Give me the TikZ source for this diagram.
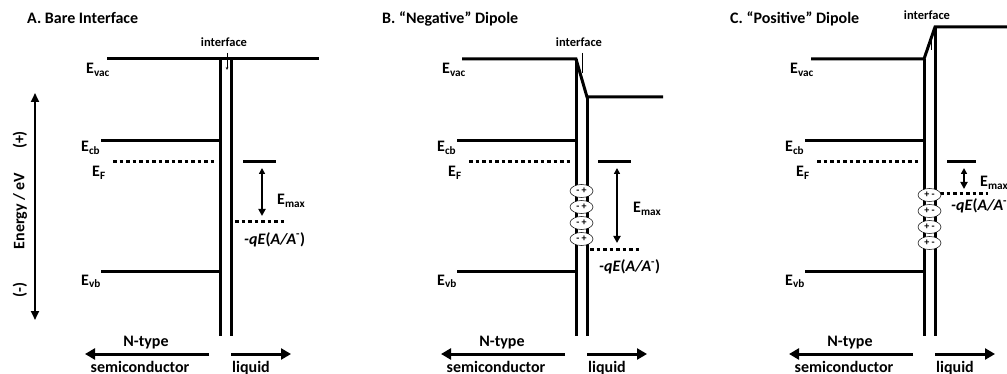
\documentclass[tikz,border=0pt]{standalone}
\usepackage{fontspec}
\setmainfont{Carlito}
\usetikzlibrary{arrows.meta,shapes.geometric}
\newcommand{\commonband}[1]{%
  \coordinate (#1-cbL) at (101,141); \coordinate (#1-cbR) at (220,141);
  \draw[band] (#1-cbL) -- (#1-cbR);
  \coordinate (#1-fL) at (113,162); \coordinate (#1-fR) at (215,162);
  \draw[dotband] (#1-fL) -- (#1-fR);
  \coordinate (#1-vbL) at (101,272); \coordinate (#1-vbR) at (220,272);
  \draw[band] (#1-vbL) -- (#1-vbR);
  \node[lbl, anchor=base west] (#1-Evac) at (86,74) {E\textsubscript{vac}};
  \node[lbl, anchor=base west] (#1-Ecb) at (81,152) {E\textsubscript{cb}};
  \node[lbl, anchor=base west] (#1-Ef) at (92,177) {E\textsubscript{F}};
  \node[lbl, anchor=base west] (#1-Evb) at (81,285) {E\textsubscript{vb}};
  \node[lbl, anchor=base] (#1-ntype) at (146,346) {N-type};
  \coordinate (#1-scT) at (209,354); \coordinate (#1-scH) at (85,354);
  \draw[bigarrow] (#1-scT) -- (#1-scH);
  \coordinate (#1-lqT) at (231,354); \coordinate (#1-lqH) at (291,354);
  \draw[bigarrow] (#1-lqT) -- (#1-lqH);
  \node[lbl, anchor=base] (#1-semi) at (140,372) {semiconductor};
  \node[lbl, anchor=base] (#1-liq) at (251,372) {liquid};
  \coordinate (#1-bl) at (220,336); \coordinate (#1-br) at (231,336);
}
\begin{document}
\begin{tikzpicture}[x=1pt,y=-1pt,
  band/.style={line width=3pt},
  dotband/.style={line width=3pt, dash pattern=on 3.5pt off 3pt},
  lbl/.style={font=\fontsize{16}{18}\selectfont\bfseries, inner sep=0pt},
  smalllbl/.style={font=\fontsize{12.5}{14}\selectfont\bfseries, inner sep=0pt},
  bigarrow/.style={line width=3pt, -{Triangle[length=10pt,width=11pt]}},
  emaxarrow/.style={line width=2.2pt, {Triangle[length=6pt,width=6pt]}-{Triangle[length=7pt,width=7pt]}},
  energyarrow/.style={line width=2.2pt, {Triangle[length=9pt,width=8pt]}-{Triangle[length=9pt,width=8pt]}},
  tickline/.style={line width=0.8pt},
  dipole/.style={ellipse, draw, line width=0.5pt, fill=white, minimum width=23pt, minimum height=13pt, inner sep=0pt, font=\fontsize{10}{10}\selectfont\bfseries},
]
\useasboundingbox (0,0) rectangle (1007,374);

% energy axis
\coordinate (ax-top) at (35,93); \coordinate (ax-bot) at (35,320);
\draw[energyarrow] (ax-bot) -- (ax-top);
\node[lbl, rotate=90] (ax-plus) at (20,140) {(+)};
\node[lbl, rotate=90] (ax-lab) at (20,211) {Energy / eV};
\node[lbl, rotate=90] (ax-minus) at (20,290) {(-)};

% ---------- Panel A ----------
\begin{scope}
  \node[lbl, anchor=base west] (a-title) at (27,24) {A. Bare Interface};
  \commonband{a}
  \coordinate (a-vL) at (107,59); \coordinate (a-vR) at (319,59);
  \draw[band] (a-vL) -- (a-vR);
  \coordinate (a-il) at (220,59); \coordinate (a-ir) at (231,59);
  \draw[band] (a-il) -- (a-bl);
  \draw[band] (a-ir) -- (a-br);
  \node[smalllbl, anchor=base] (a-int) at (224,47) {interface};
  \coordinate (a-t1) at (227,53); \coordinate (a-t2) at (227,70);
  \draw[tickline, -{Stealth[length=3pt,width=2.5pt]}] (a-t1) -- (a-t2);
  \coordinate (a-lqL) at (243,162); \coordinate (a-lqR) at (276,162);
  \draw[band] (a-lqL) -- (a-lqR);
  \coordinate (a-e1) at (262,168); \coordinate (a-e2) at (262,216);
  \draw[emaxarrow] (a-e1) -- (a-e2);
  \node[lbl, anchor=base west] (a-emax) at (277,205) {E\textsubscript{max}};
  \coordinate (a-rL) at (235,222); \coordinate (a-rR) at (287,222);
  \draw[dotband] (a-rL) -- (a-rR);
  \node[lbl, anchor=base west] (a-redox) at (244,244) {\textit{-qE}(\textit{A/A}\textsuperscript{-})};
\end{scope}

% ---------- Panel B ----------
\begin{scope}[xshift=356pt]
  \node[lbl, anchor=base west] (b-title) at (26,24) {B. “Negative” Dipole};
  \commonband{b}
  \coordinate (b-vL) at (106,59); \coordinate (b-il) at (220,59);
  \coordinate (b-ir) at (231,97); \coordinate (b-vR) at (307,97);
  \draw[band] (b-vL) -- (b-il) -- (b-ir) -- (b-vR);
  \draw[band] (b-il) -- (b-bl);
  \draw[band] (b-ir) -- (b-br);
  \node[smalllbl, anchor=base] (b-int) at (223,47) {interface};
  \coordinate (b-t1) at (226,53); \coordinate (b-t2) at (226,73);
  \draw[tickline] (b-t1) -- (b-t2);
  \coordinate (b-lqL) at (242,162); \coordinate (b-lqR) at (275,162);
  \draw[band] (b-lqL) -- (b-lqR);
  \coordinate (b-e1) at (261,168); \coordinate (b-e2) at (261,243);
  \draw[emaxarrow] (b-e1) -- (b-e2);
  \node[lbl, anchor=base west] (b-emax) at (277,213) {E\textsubscript{max}};
  \coordinate (b-rL) at (234,250); \coordinate (b-rR) at (286,250);
  \draw[dotband] (b-rL) -- (b-rR);
  \node[lbl, anchor=base west] (b-redox) at (243,272) {\textit{-qE}(\textit{A/A}\textsuperscript{-})};
  \node[dipole] (b-d1) at (225.5,191) {- +};
  \node[dipole] (b-d2) at (225.5,207) {- +};
  \node[dipole] (b-d3) at (225.5,223) {- +};
  \node[dipole] (b-d4) at (225.5,239) {- +};
\end{scope}

% ---------- Panel C ----------
\begin{scope}[xshift=704pt]
  \node[lbl, anchor=base west] (c-title) at (26,24) {C. “Positive” Dipole};
  \commonband{c}
  \coordinate (c-vL) at (107,59); \coordinate (c-il) at (220,59);
  \coordinate (c-ir) at (231,27); \coordinate (c-vR) at (310,27);
  \draw[band] (c-vL) -- (c-il) -- (c-ir) -- (c-vR);
  \draw[band] (c-il) -- (c-bl);
  \draw[band] (c-ir) -- (c-br);
  \node[smalllbl, anchor=base] (c-int) at (223,20) {interface};
  \coordinate (c-t1) at (227,34); \coordinate (c-t2) at (227,50);
  \draw[tickline] (c-t1) -- (c-t2);
  \coordinate (c-lqL) at (243,162); \coordinate (c-lqR) at (272,162);
  \draw[band] (c-lqL) -- (c-lqR);
  \coordinate (c-e1) at (260,168); \coordinate (c-e2) at (260,189);
  \draw[emaxarrow] (c-e1) -- (c-e2);
  \node[lbl, anchor=base west] (c-emax) at (276,187) {E\textsubscript{max}};
  \coordinate (c-rL) at (236,194); \coordinate (c-rR) at (284,194);
  \draw[dotband] (c-rL) -- (c-rR);
  \node[lbl, anchor=base west] (c-redox) at (247,211) {\textit{-qE}(\textit{A/A}\textsuperscript{-})};
  \node[dipole] (c-d1) at (225.5,195) {+ -};
  \node[dipole] (c-d2) at (225.5,211) {+ -};
  \node[dipole] (c-d3) at (225.5,227) {+ -};
  \node[dipole] (c-d4) at (225.5,243) {+ -};
\end{scope}
\end{tikzpicture}
\end{document}
